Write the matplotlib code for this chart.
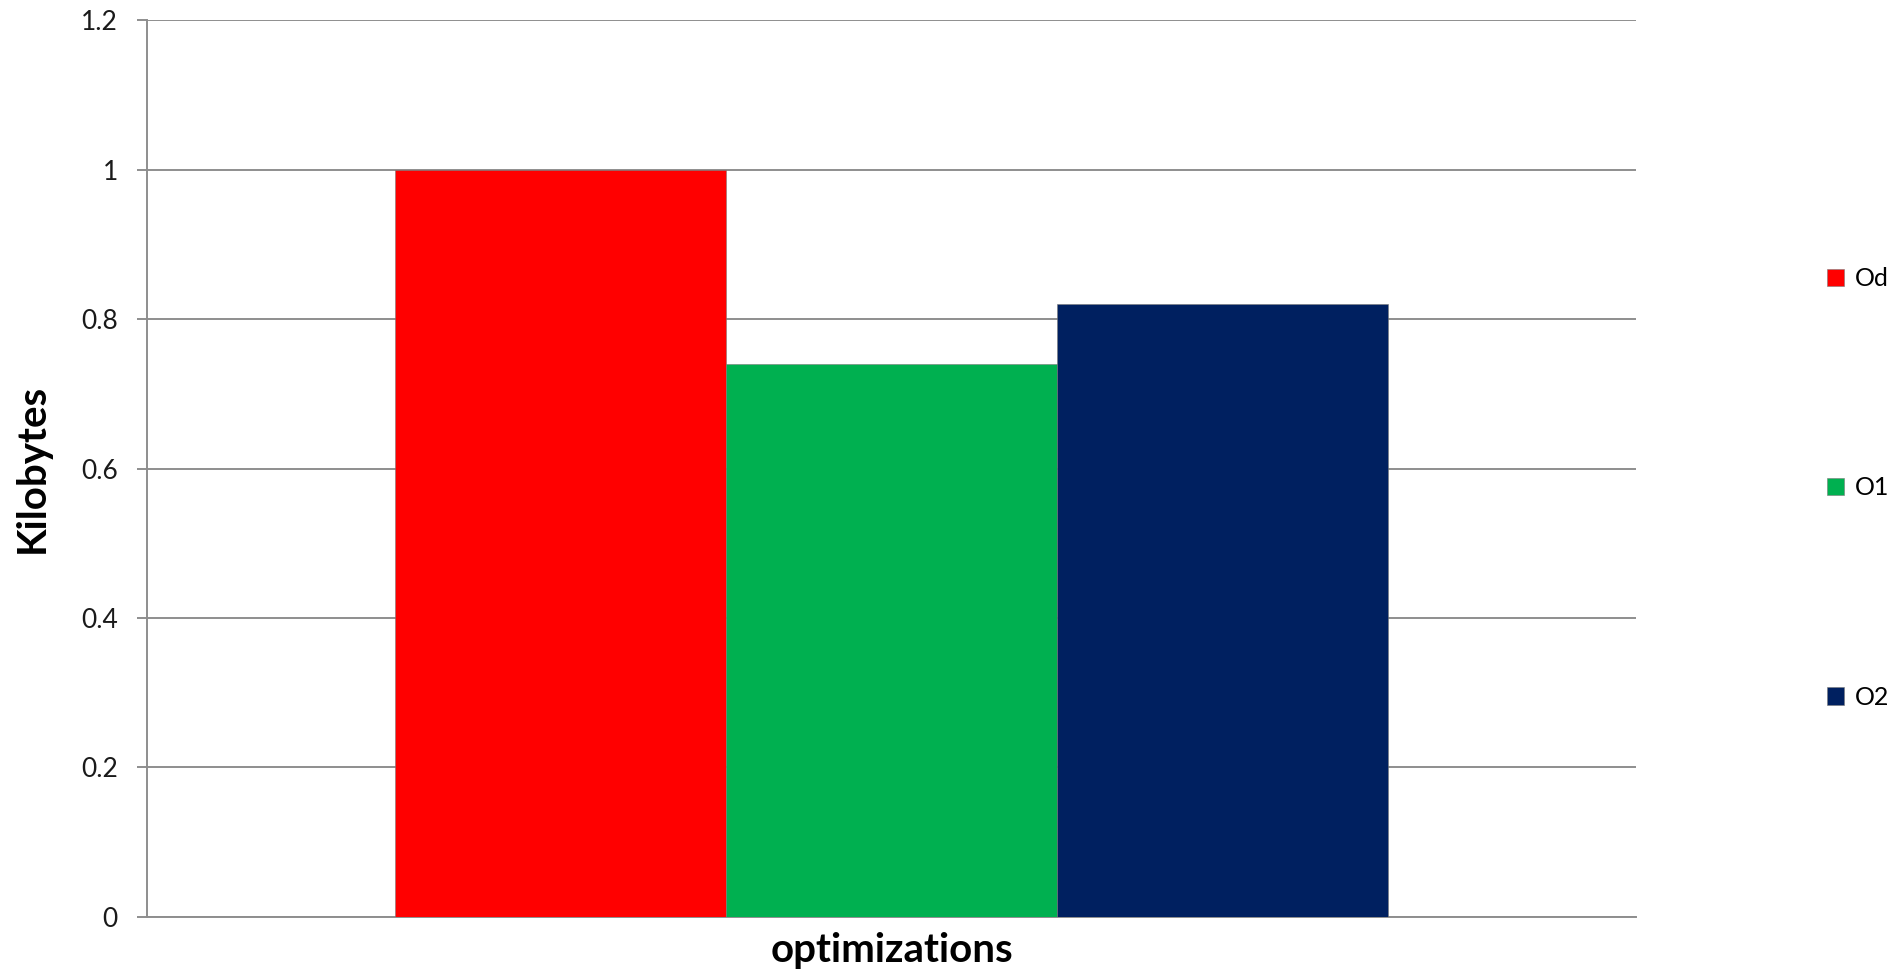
import matplotlib
matplotlib.use("Agg")
import matplotlib.pyplot as plt
from matplotlib.patches import Patch

plt.rcParams['font.family'] = ['Lato', 'DejaVu Sans']

# size of the build under each optimization level
series = ["Od", "O1", "O2"]
values = [1.0, 0.74, 0.82]
colors = ["#FF0000", "#00B050", "#002060"]
yticks = [0, 0.2, 0.4, 0.6, 0.8, 1.0, 1.2]
ytick_labels = ["0", "0.2", "0.4", "0.6", "0.8", "1", "1.2"]

grid_col = "#8E8E8E"

fig = plt.figure(figsize=(18.93, 9.72), dpi=100)
ax = fig.add_axes([0.0777, 0.0566, 0.7865, 0.9228])

# one category, three clustered bars with a 150% gap
w = 1 / 4.5
for i, (name, v, c) in enumerate(zip(series, values, colors)):
    ax.bar(0.5 + (i - 1) * w, v, width=w, color=c, edgecolor="#7a7a7a",
           linewidth=0.4, zorder=3, label=name)

ax.set_xlim(0, 1)
ax.set_ylim(0, 1.2)
ax.set_yticks(yticks)
ax.set_yticklabels(ytick_labels)
ax.set_xticks([])

ax.yaxis.grid(True, color=grid_col, linewidth=1.4, zorder=0)
ax.set_axisbelow(True)
for s in ["top", "right"]:
    ax.spines[s].set_visible(False)
for s in ["left", "bottom"]:
    ax.spines[s].set_color(grid_col)
    ax.spines[s].set_linewidth(1.4)
ax.tick_params(axis="y", length=7, width=1.4, color=grid_col, pad=14,
               labelsize=19, labelcolor="#1a1a1a")

ax.set_ylabel("Kilobytes", fontsize=29, fontweight="bold", va="center")
ax.yaxis.set_label_coords(-0.0772, 0.5)
ax.set_xlabel("optimizations", fontsize=29, fontweight="bold", va="center")
ax.xaxis.set_label_coords(0.5, -0.037)

handles = [Patch(facecolor=c, edgecolor="#7a7a7a", linewidth=0.4) for c in colors]
fig.legend(handles, series, loc="center left", bbox_to_anchor=(0.9651, 0.498),
           frameon=False, fontsize=18, handlelength=0.68, handleheight=0.68,
           handletextpad=0.45, labelspacing=7.45, borderpad=0, borderaxespad=0)

fig.savefig("out.png", dpi=100)
